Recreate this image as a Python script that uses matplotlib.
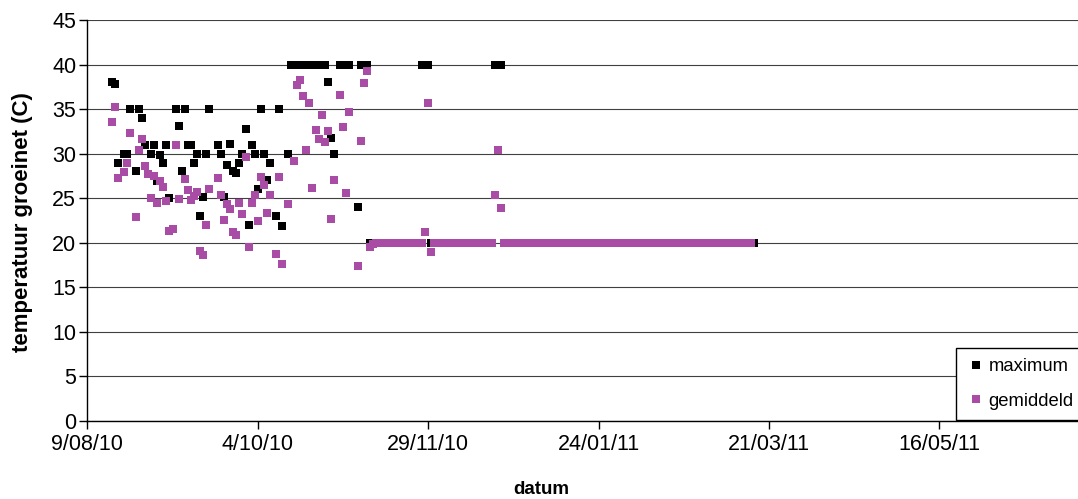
import matplotlib
matplotlib.use('Agg')
import matplotlib.pyplot as plt
import matplotlib.dates as mdates
from matplotlib.ticker import FuncFormatter
import pandas as pd

plt.rcParams['font.family'] = ['Liberation Sans', 'DejaVu Sans']

# dagen sinds 9/08/10
start = pd.Timestamp('2010-08-09')

max_days = [8, 9, 10, 12, 13, 14, 16, 17, 18, 19, 21, 22, 23, 24, 25, 26, 27, 29, 30, 31,
            32, 33, 34, 35, 36, 37, 38, 39, 40, 43, 44, 45, 46, 47, 48, 49, 50, 51, 52, 53,
            54, 55, 56, 57, 58, 59, 60, 62, 63, 64, 66, 79, 80, 81, 89]
max_vals = [38.0, 37.8, 29.0, 30.0, 30.0, 35.0, 28.0, 35.0, 34.0, 31.0, 30.0, 31.0, 26.9, 29.8,
            29.0, 31.0, 25.0, 35.0, 33.1, 28.1, 35.0, 31.0, 31.0, 29.0, 30.0, 23.0, 25.1, 30.0,
            35.0, 31.0, 30.0, 25.1, 28.7, 31.1, 28.0, 27.8, 29.0, 30.0, 32.8, 22.0, 31.0, 30.0,
            26.0, 35.0, 30.0, 27.0, 29.0, 23.0, 35.0, 21.9, 30.0, 38.0, 31.8, 30.0, 24.0]
# periodes met constante waarde (eerste dag, laatste dag, waarde)
max_runs = [(67, 78, 40), (83, 86, 40), (90, 92, 40), (93, 109, 20), (110, 112, 40),
            (113, 133, 20), (134, 136, 40), (137, 219, 20)]

mean_days = [8, 9, 10, 12, 13, 14, 16, 17, 18, 19, 20, 21, 22, 23, 24, 25, 26, 27, 28, 29,
             30, 32, 33, 34, 35, 36, 37, 38, 39, 40, 43, 44, 45, 46, 47, 48, 49, 50, 51, 52,
             53, 54, 55, 56, 57, 58, 59, 60, 62, 63, 64, 66, 68, 69, 70, 71, 72, 73, 74, 75,
             76, 77, 78, 79, 80, 81, 83, 84, 85, 86, 89, 90, 91, 92, 93, 94, 111, 112, 113,
             134, 135, 136]
mean_vals = [33.5, 35.2, 27.3, 27.9, 29.0, 32.3, 22.9, 30.4, 31.6, 28.6, 27.7, 25.0, 27.5, 24.5,
             26.9, 26.3, 24.7, 21.3, 21.5, 31.0, 24.9, 27.2, 25.9, 24.8, 25.2, 25.7, 19.1, 18.6,
             22.0, 26.0, 27.3, 25.4, 22.6, 24.4, 23.8, 21.2, 20.9, 24.5, 23.2, 29.6, 19.5, 24.5,
             25.4, 22.4, 27.4, 26.5, 23.3, 25.4, 18.7, 27.4, 17.6, 24.4, 29.2, 37.7, 38.3, 36.5,
             30.4, 35.7, 26.2, 32.7, 31.7, 34.3, 31.3, 32.5, 22.7, 27.1, 36.6, 33.0, 25.6, 34.7,
             17.4, 31.4, 37.9, 39.3, 19.5, 19.9, 21.2, 35.7, 19.0, 25.4, 30.4, 23.9]
mean_runs = [(95, 110, 20), (114, 133, 20), (137, 218, 20)]


def expand(days, vals, runs):
    d, v = list(days), list(vals)
    for a, b, val in runs:
        for k in range(a, b + 1):
            d.append(k)
            v.append(val)
    s = pd.Series(v, index=[start + pd.Timedelta(days=k) for k in d]).sort_index()
    return s


maximum = expand(max_days, max_vals, max_runs)
gemiddeld = expand(mean_days, mean_vals, mean_runs)

fig = plt.figure(figsize=(10.78, 4.99), dpi=100)
# plotgebied loopt rechts buiten de figuur door (zoals in het origineel)
ax = fig.add_axes([87.3 / 1078, 78 / 499, 1022.4 / 1078, 401 / 499])

ax.plot(maximum.index, maximum.values, 's', color='black', ms=5.2, mew=0,
        label='maximum', zorder=3)
ax.plot(gemiddeld.index, gemiddeld.values, 's', color='#A84CA5', ms=5.2, mew=0,
        label='gemiddeld', zorder=4)

ax.set_ylim(0, 45)
ax.set_yticks(range(0, 46, 5))
ax.set_xlim(start, pd.Timestamp('2011-07-11'))
ax.set_xticks([start + pd.Timedelta(days=56 * i) for i in range(6)])
ax.xaxis.set_major_formatter(FuncFormatter(
    lambda x, pos: (lambda d: f"{d.day}/{d.month:02d}/{d.year % 100:02d}")(mdates.num2date(x))))

ax.yaxis.grid(True, color='#404040', lw=0.8)
ax.set_axisbelow(True)
for s in ['top', 'right']:
    ax.spines[s].set_visible(False)
for s in ['left', 'bottom']:
    ax.spines[s].set_color('black')
    ax.spines[s].set_linewidth(1.0)
ax.tick_params(axis='both', direction='out', length=6, width=1, labelsize=15.5, colors='black')
ax.tick_params(axis='y', pad=2)
ax.tick_params(axis='x', pad=3)

fig.text(23 / 1078, 1 - 222 / 499, 'temperatuur groeinet (C)', rotation=90,
         ha='center', va='center', fontsize=16, fontweight='bold')
fig.text(541 / 1078, 1 - 489 / 499, 'datum', ha='center', va='center',
         fontsize=13.5, fontweight='bold')

leg = ax.legend(loc='upper left', bbox_to_anchor=(956 / 1078, 1 - 348 / 499, 0.2, 0),
                bbox_transform=fig.transFigure, mode='expand', fontsize=13.3,
                frameon=True, fancybox=False, edgecolor='black', framealpha=1,
                handlelength=1.1, handletextpad=0.12, labelspacing=0.95,
                borderpad=0.55, markerscale=1.0, borderaxespad=0)
leg.get_frame().set_linewidth(1.0)

fig.savefig('out.png', dpi=100)
